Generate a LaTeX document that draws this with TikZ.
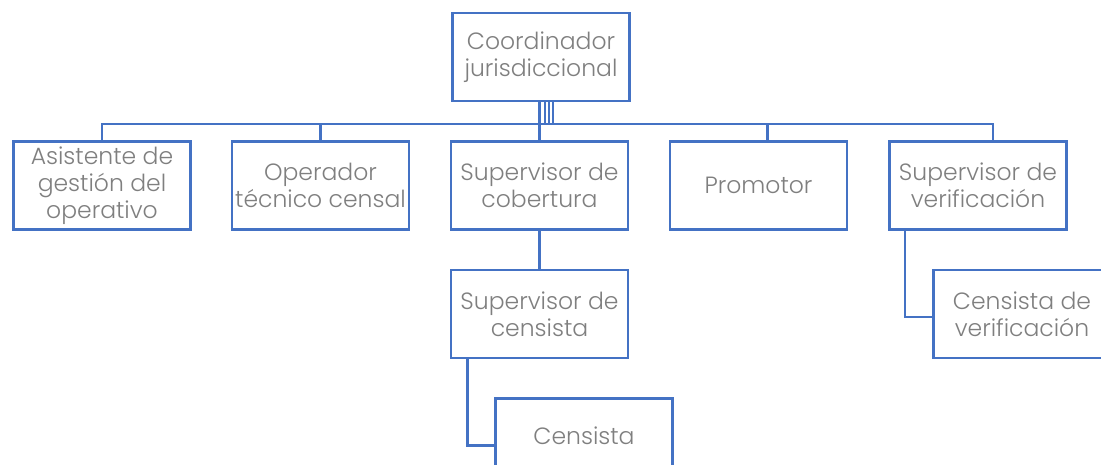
\documentclass[tikz,border=0pt]{standalone}
\usepackage{fontspec}
\setmainfont{Poppins Light}
\usetikzlibrary{positioning}
\definecolor{orgblue}{RGB}{68,114,196}
\definecolor{orggray}{RGB}{127,127,127}
\tikzset{
  cargo/.style={draw=orgblue, line width=2.6pt, fill=white,
    minimum width=177pt, minimum height=88pt, inner sep=0pt,
    align=center, text=orggray, font=\fontsize{23.5}{27}\selectfont},
  enlace/.style={draw=orgblue, line width=2.6pt},
}
\begin{document}
\begin{tikzpicture}[x=1pt,y=-1pt]
  \useasboundingbox (0,0) rectangle (1101,465);
  \clip (0,0) rectangle (1101,465);
  % cargos
  \node[cargo] (coord) at (541,57) {Coordinador\\jurisdiccional};
  \node[cargo] (asis) at (102,185.5) {Asistente de\\gesti\'on del\\operativo};
  \node[cargo] (oper) at (320.5,185.5) {Operador\\t\'ecnico censal};
  \node[cargo] (cober) at (539.5,185.5) {Supervisor de\\cobertura};
  \node[cargo] (prom) at (758.5,185.5) {Promotor};
  \node[cargo] (veri) at (978,185.5) {Supervisor de\\verificaci\'on};
  \node[cargo] (censor) at (539.5,314) {Supervisor de\\censista};
  \node[cargo, minimum height=74pt] (censista) at (584,435.5) {Censista};
  \node[cargo] (censver) at (1022,314) {Censista de\\verificaci\'on};
  % enlaces
  \coordinate (barra) at (0,124);
  \draw[enlace] (asis.north) -- (asis.north |- barra)
    -- ([xshift=15pt]veri.north |- barra) -- ([xshift=15pt]veri.north);
  \draw[enlace] (oper.north) -- (oper.north |- barra);
  \draw[enlace] ([xshift=9pt]prom.north) -- ([xshift=9pt]prom.north |- barra);
  \draw[enlace] (cober.north) -- (cober.north |- coord.south);
  \foreach \d in {4,8,12}
    \draw[enlace, line width=1.6pt] ([xshift=\d pt]coord.south) -- ([xshift=\d pt]coord.south |- barra);
  \draw[enlace] (cober.south) -- (censor.north);
  \draw[enlace] ([xshift=-72pt]censor.south) |- ([yshift=-10pt]censista.west);
  \draw[enlace] ([xshift=-73pt]veri.south) |- ([yshift=-3pt]censver.west);
\end{tikzpicture}
\end{document}
